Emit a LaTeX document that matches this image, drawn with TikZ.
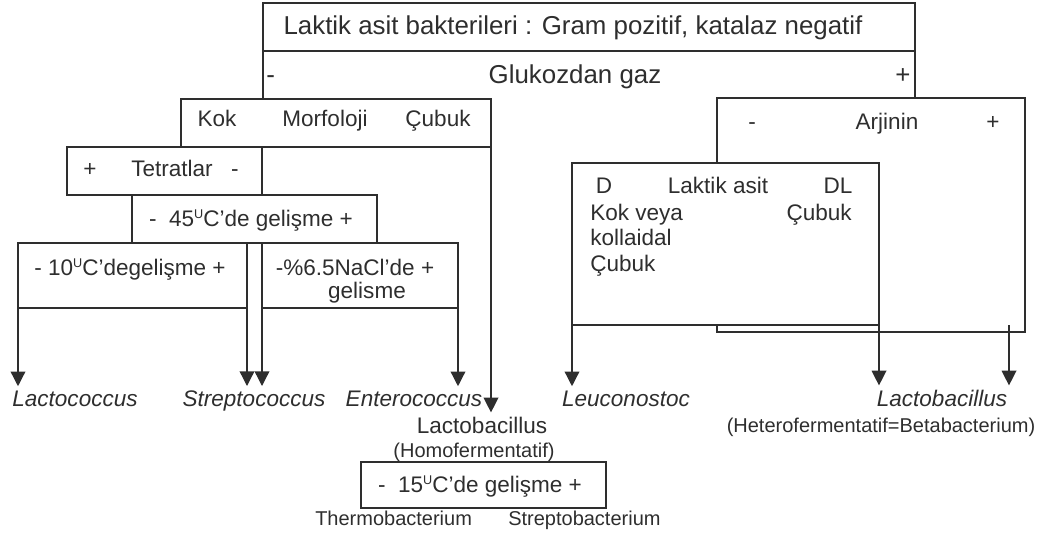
\documentclass[tikz,border=0pt]{standalone}
\usepackage{fontspec}
\setmainfont{Liberation Sans}
\usetikzlibrary{arrows.meta,fit}
\definecolor{ink}{gray}{0.18}
\newcommand{\supU}{\raisebox{0.62ex}{\fontsize{9.5}{10}\selectfont U}}
\begin{document}
\begin{tikzpicture}[x=0.75pt,y=-0.75pt,
  box/.style={draw=ink, line width=1pt, inner sep=0pt, outer sep=0pt},
  ln/.style={draw=ink, line width=1pt},
  arr/.style={draw=ink, line width=1pt, -{Triangle[width=11pt,length=11pt]}, shorten >=3pt},
  tx/.style={inner sep=0pt, text=ink, font=\fontsize{16.9}{20}\selectfont, anchor=base},
  tl/.style={tx, anchor=base west},
  tr/.style={tx, anchor=base east},
  bigx/.style={font=\fontsize{19.4}{22}\selectfont},
  itx/.style={font=\fontsize{16.9}{20}\selectfont\itshape},
  smx/.style={font=\fontsize{15}{18}\selectfont}]
\useasboundingbox (0,0) rectangle (1047,535);

% boxes
\node[box, fit={(263,3) (915,51)}] (top) {};
\node[box, fit={(181,99) (491,147)}] (kok) {};
\node[box, fit={(67,147) (262,195)}] (tet) {};
\node[box, fit={(132,195) (377,243)}] (c45) {};
\node[box, fit={(18,243) (247,308)}] (c10) {};
\node[box, fit={(262,243) (458,308)}] (nacl) {};
\node[box, fit={(717,98) (1025,332)}] (arj) {};
\node[box, fill=white, fit={(572,163) (879,325)}] (dl) {};
\node[box, fit={(361,462) (606,508)}] (c15) {};
\coordinate (ap) at (1009,325);

% bracket of the top box
\draw[ln] (top.south west) -- (top.south west |- kok.north);
\draw[ln] (top.south east) -- (top.south east |- arj.north);

% texts
\node[tx, bigx] (lab) at (573,35) {Laktik asit bakterileri : Gram pozitif, katalaz negatif};
\node[tl, bigx] (gm) at (266,84) {-};
\node[tx, bigx] (gl) at (575,84) {Glukozdan gaz};
\node[tx, bigx] (gp) at (903,84) {+};

\node[tx] (kk) at (217,127) {Kok};
\node[tx] (mf) at (325,127) {Morfoloji};
\node[tx] (cb) at (438,127) {Çubuk};

\node[tx] (tp) at (90,176) {+};
\node[tx] (tt) at (172,176) {Tetratlar};
\node[tx] (tm) at (235,176) {-};

\node[tx] (t45) at (251,226) {-\ \ 45\supU C’de gelişme +};
\node[tx] (t10) at (130,275) {- 10\supU C’degelişme +};
\node[tx] (tna) at (355,275) {-\%6.5NaCl’de +};
\node[tx] (tna2) at (367,298) {gelisme};

\node[tx] (am) at (752,130) {-};
\node[tx] (aa) at (887,130) {Arjinin};
\node[tx] (ap2) at (993,130) {+};

\node[tx] (dd) at (604,194) {D};
\node[tx] (dla) at (718,194) {Laktik asit};
\node[tx] (ddl) at (838,194) {DL};
\node[tl] (dk) at (590,220) {Kok veya};
\node[tr] (dc) at (852,220) {Çubuk};
\node[tl] (dko) at (590,245) {kollaidal};
\node[tl] (dc2) at (590,271) {Çubuk};

\node[tx, itx] (lcc) at (75,406) {Lactococcus};
\node[tx, itx] (stc) at (254,406) {Streptococcus};
\node[tx, itx] (ent) at (414,406) {Enterococcus};
\node[tx, itx] (leu) at (626,406) {Leuconostoc};
\node[tx, itx] (lbr) at (942,406) {Lactobacillus};
\node[tx, smx] (het) at (881,432) {(Heterofermentatif=Betabacterium)};

\node[tx] (lbh) at (482,433) {Lactobacillus};
\node[tx, smx] (hom) at (474,457) {(Homofermentatif)};
\node[tx] (t15) at (480,492) {-\ \ 15\supU C’de gelişme +};
\node[tl, smx] (thm) at (315,525) {Thermobacterium};
\node[tl, smx] (stb) at (508,525) {Streptobacterium};

% arrows
\draw[arr] (c10.south west) -- (c10.south west |- lcc.north);
\draw[arr] (c10.south east) -- (c10.south east |- stc.north);
\draw[arr] (nacl.south west) -- (nacl.south west |- stc.north);
\draw[arr] (nacl.south east) -- (nacl.south east |- ent.north);
\draw[arr] (kok.north east) -- (kok.north east |- lbh.north);
\draw[arr] (dl.south west) -- (dl.south west |- leu.north);
\draw[arr] (dl.south east) -- (dl.south east |- lbr.north);
\draw[arr] (ap) -- (ap |- lbr.north);
\end{tikzpicture}
\end{document}
